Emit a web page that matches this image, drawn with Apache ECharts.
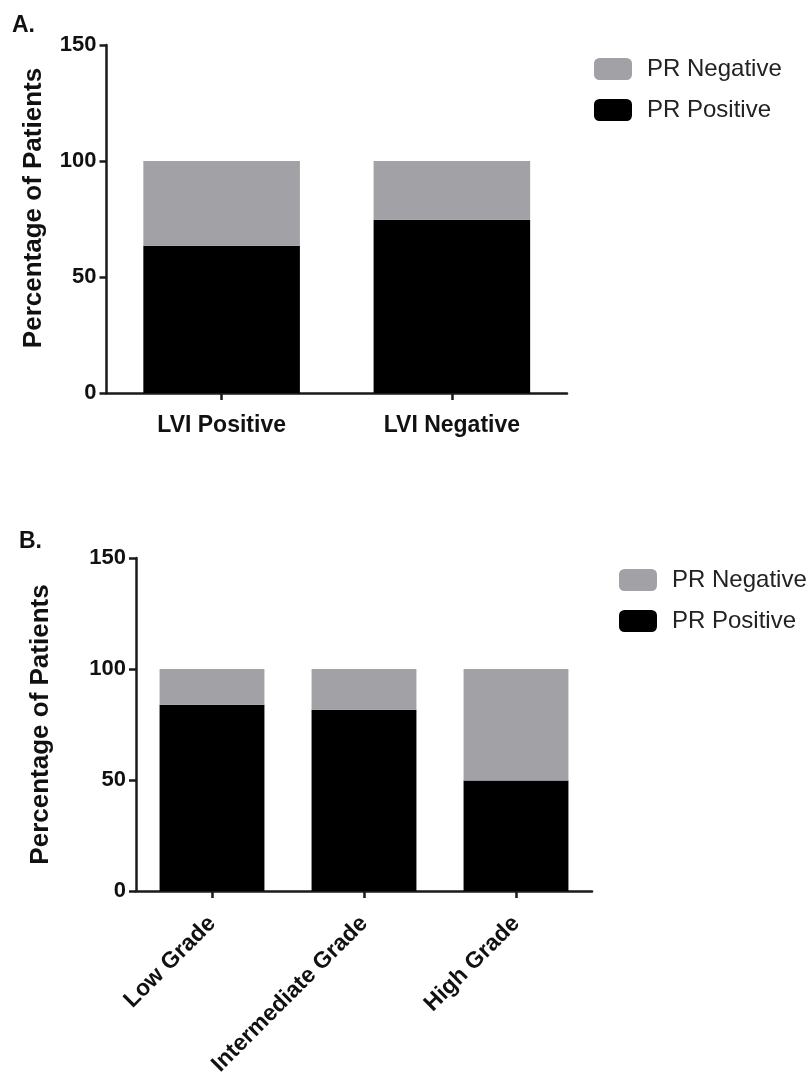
<!DOCTYPE html>
<html>
<head>
<meta charset="utf-8">
<script src="https://cdn.jsdelivr.net/npm/echarts@6/dist/echarts.min.js"></script>
<style>
  html, body { margin: 0; padding: 0; background: #fff; }
  #chart { width: 811px; height: 1086px; }
</style>
</head>
<body>
<div id="chart"></div>
<script>
// ---- Data ----
const categoriesA = ['LVI Positive', 'LVI Negative'];
const prPositiveA = [63.5, 74.7];
const prNegativeA = [36.5, 25.3];

const categoriesB = ['Low Grade', 'Intermediate Grade', 'High Grade'];
const prPositiveB = [83.9, 81.6, 49.8];
const prNegativeB = [16.1, 18.4, 50.2];

const seriesNames = ['PR Negative', 'PR Positive'];
const yTicks = { min: 0, max: 150, interval: 50 };
const yTitle = 'Percentage of Patients';
const panelLabels = ['A.', 'B.'];

// ---- Styles ----
const GRAY = '#a2a1a6';
const BLACK = '#000000';
const AXIS = '#1a1a1a';
const FONT = 'Liberation Sans, Arial, sans-serif';

const chart = echarts.init(document.getElementById('chart'), null, { renderer: 'canvas' });

function yAxis(gridIndex, nameGap, namePad) {
  return {
    type: 'value', gridIndex: gridIndex,
    min: yTicks.min, max: yTicks.max, interval: yTicks.interval,
    name: yTitle, nameLocation: 'middle', nameGap: nameGap, nameRotate: 90,
    nameTextStyle: { fontFamily: FONT, fontWeight: 'bold', fontSize: 26, color: '#111', padding: namePad },
    axisLine: { show: true, lineStyle: { color: AXIS, width: 2.5 } },
    axisTick: { show: true, length: 7, lineStyle: { color: AXIS, width: 2.5 } },
    splitLine: { show: false },
    axisLabel: { fontFamily: FONT, fontWeight: 'bold', fontSize: 22, color: '#111', margin: 10 }
  };
}

function xAxis(gridIndex, data, rotate, margin) {
  return {
    type: 'category', gridIndex: gridIndex, data: data,
    axisLine: { show: true, lineStyle: { color: AXIS, width: 2.5 } },
    axisTick: { show: true, alignWithLabel: true, length: 7, lineStyle: { color: AXIS, width: 2.5 } },
    axisLabel: { fontFamily: FONT, fontWeight: 'bold', fontSize: 23, color: '#111',
                 rotate: rotate, margin: margin, interval: 0 }
  };
}

function legend(left, top) {
  return {
    data: seriesNames,
    orient: 'vertical', left: left, top: top, padding: 0,
    itemWidth: 38, itemHeight: 22, itemGap: 17,
    icon: 'roundRect',
    textStyle: { fontFamily: FONT, fontSize: 24, color: '#222', padding: [0, 0, 0, 10] },
    selectedMode: false
  };
}

const option = {
  backgroundColor: '#fff',
  animation: false,
  graphic: [
    { type: 'text', left: 12, top: 14, style: { text: panelLabels[0], font: 'bold 23px ' + FONT, fill: '#111' } },
    { type: 'text', left: 19, top: 530, style: { text: panelLabels[1], font: 'bold 23px ' + FONT, fill: '#111' } }
  ],
  legend: [legend(594, 57), legend(619, 568)],
  grid: [
    { left: 106.5, right: 244, top: 45, bottom: 693 },
    { left: 136, right: 219, top: 558, bottom: 195 }
  ],
  xAxis: [
    xAxis(0, categoriesA, 0, 21),
    xAxis(1, categoriesB, 45, 29)
  ],
  yAxis: [
    yAxis(0, 60, [0, 0, 0, 22]),
    yAxis(1, 82, 0)
  ],
  series: [
    { name: seriesNames[1], type: 'bar', stack: 'a', xAxisIndex: 0, yAxisIndex: 0,
      data: prPositiveA, barWidth: '68%', itemStyle: { color: BLACK } },
    { name: seriesNames[0], type: 'bar', stack: 'a', xAxisIndex: 0, yAxisIndex: 0,
      data: prNegativeA, barWidth: '68%', itemStyle: { color: GRAY } },
    { name: seriesNames[1], type: 'bar', stack: 'b', xAxisIndex: 1, yAxisIndex: 1,
      data: prPositiveB, barWidth: '69%', itemStyle: { color: BLACK } },
    { name: seriesNames[0], type: 'bar', stack: 'b', xAxisIndex: 1, yAxisIndex: 1,
      data: prNegativeB, barWidth: '69%', itemStyle: { color: GRAY } }
  ]
};

chart.setOption(option);
</script>
</body>
</html>
